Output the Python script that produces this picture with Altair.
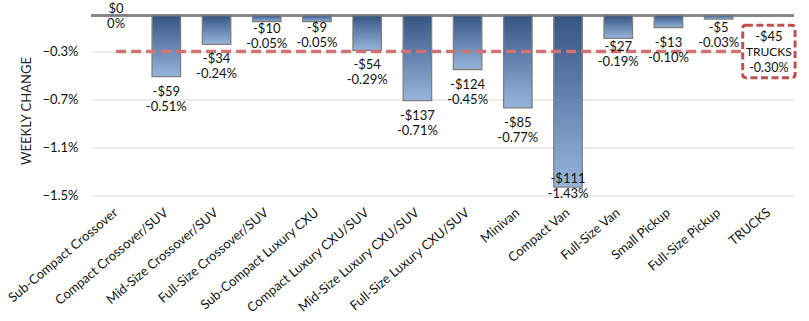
import altair as alt
import pandas as pd

# ---- data ----
categories = [
    "Sub-Compact Crossover", "Compact Crossover/SUV", "Mid-Size Crossover/SUV",
    "Full-Size Crossover/SUV", "Sub-Compact Luxury CXU", "Compact Luxury CXU/SUV",
    "Mid-Size Luxury CXU/SUV", "Full-Size Luxury CXU/SUV", "Minivan", "Compact Van",
    "Full-Size Van", "Small Pickup", "Full-Size Pickup", "TRUCKS",
]
pct_change = [0, -0.51, -0.24, -0.05, -0.05, -0.29, -0.71, -0.45, -0.77, -1.43,
              -0.19, -0.10, -0.03, -0.30]
dollar_change = [0, -59, -34, -10, -9, -54, -137, -124, -85, -111, -27, -13, -5, -45]
y_ticks = [-1.5, -1.1, -0.7, -0.3]

# ---- layout ----
W, H = 703, 180
Y_MIN, Y_MAX = -1.5, 0.0
PX_PER_UNIT = H / (Y_MAX - Y_MIN)
FONT = "Lato"
TXT = "#111111"

# manual label nudges (as in the reference), pixels
NUDGE = {"Full-Size Crossover/SUV": -7.5, "Sub-Compact Luxury CXU": -9,
         "Full-Size Van": -6.5, "Full-Size Pickup": -6.5}

rows = []
for c, p, d in zip(categories[:-1], pct_change[:-1], dollar_change[:-1]):
    usd_txt = "$0" if d == 0 else "-$" + str(abs(d))
    pct_txt = "0%" if p == 0 else f"{p:.2f}%"
    end_px = -p * PX_PER_UNIT
    if p == 0:
        o1, o2 = -6.5, 8.5
    elif end_px + 30 > H:
        o1, o2 = -7.7, 7.3
    else:
        n = NUDGE.get(c, 0)
        o1, o2 = 15 + n, 30 + n
    rows.append(dict(cat=c, pct=p, usd_txt=usd_txt, pct_txt=pct_txt,
                     y1=p - o1 / PX_PER_UNIT, y2=p - o2 / PX_PER_UNIT))
bars_df = pd.DataFrame(rows)

tp = pct_change[-1]
truck_df = pd.DataFrame([dict(cat=categories[-1], pct=tp,
                              l1="-$" + str(abs(dollar_change[-1])),
                              l2=categories[-1],
                              l3=f"{tp:.2f}%")])
line_df = pd.DataFrame(dict(cat=[categories[0], categories[-1]], pct=[tp, tp]))

x_enc = alt.X("cat:N", sort=categories,
              scale=alt.Scale(domain=categories, paddingInner=0, paddingOuter=0),
              axis=alt.Axis(labelAngle=320, labelAlign="right", labelBaseline="middle",
                            labelPadding=15, domain=False, ticks=False, title=None,
                            labelFont=FONT, labelFontSize=13, labelColor=TXT,
                            labelOverlap=False, grid=False))
y_scale = alt.Scale(domain=[Y_MIN, Y_MAX], nice=False, zero=True)
y_enc = alt.Y("pct:Q", scale=y_scale,
              axis=alt.Axis(values=y_ticks, labelExpr="format(datum.value, '.1f') + '%'",
                            grid=True, gridColor="#D9D9D9", gridWidth=1,
                            domain=False, ticks=False, labelPadding=13,
                            labelFont=FONT, labelFontSize=13, labelColor=TXT,
                            title="WEEKLY CHANGE", titleFont=FONT, titleFontSize=13,
                            titleFontWeight="normal", titleColor="#262626",
                            titleAngle=270, titleAlign="center", titleBaseline="bottom",
                            titleX=-58, titleY=H / 2 + 5))

zero_rule = alt.Chart(bars_df).mark_rule(color="#868686", strokeWidth=1.3).encode(
    y=alt.datum(0, scale=y_scale))

grad = alt.Gradient(gradient="linear",
                    stops=[alt.GradientStop(color="#365580", offset=0),
                           alt.GradientStop(color="#6A8AB5", offset=0.55),
                           alt.GradientStop(color="#97B5DA", offset=1)],
                    x1=0, x2=0, y1=0, y2=1)
bars = alt.Chart(bars_df).mark_bar(size=28.5, color=grad, stroke="#7F7F7F",
                                    strokeWidth=1.3).encode(x=x_enc, y=y_enc)

dash_line = alt.Chart(line_df).mark_line(color="#CF7474", strokeWidth=3.5,
                                          strokeDash=[10, 5], strokeCap="butt").encode(
    x=alt.X("cat:N", sort=categories), y=alt.Y("pct:Q"))

box_path = ("M-0.88,-1 L0.88,-1 Q1,-1 1,-0.88 L1,0.88 Q1,1 0.88,1 L-0.88,1 "
            "Q-1,1 -1,0.88 L-1,-0.88 Q-1,-1 -0.88,-1 Z")
box = alt.Chart(truck_df).mark_point(shape=box_path, size=2740, fill="white",
                                      fillOpacity=1, stroke="#C0504D", strokeOpacity=1,
                                      strokeWidth=3, strokeDash=[7, 3.5]).encode(
    x=alt.X("cat:N", sort=categories), y=alt.Y("pct:Q"))

def txt(df, field, yfield="pct", off=0, size=13, weight="normal"):
    return alt.Chart(df).mark_text(font=FONT, fontSize=size, fontWeight=weight, color=TXT,
                                   baseline="middle", align="center", yOffset=off).encode(
        x=alt.X("cat:N", sort=categories), y=alt.Y(f"{yfield}:Q"), text=f"{field}:N")

lab_usd = txt(bars_df, "usd_txt", "y1")
lab_pct = txt(bars_df, "pct_txt", "y2")
t1 = txt(truck_df, "l1", off=-15)
t2 = txt(truck_df, "l2", off=0.8, size=12)
t3 = txt(truck_df, "l3", off=16.8, size=12.5)

chart = alt.layer(zero_rule, bars, dash_line, box, lab_usd, lab_pct, t1, t2, t3).properties(
    width=W, height=H,
    autosize=alt.AutoSizeParams(type="none"),
    padding={"left": 91, "top": 15.5, "right": 15, "bottom": 125.5},
    background="white",
).configure_view(stroke=None)

chart.save("out.html", embed_options={"renderer": "svg", "actions": False})
